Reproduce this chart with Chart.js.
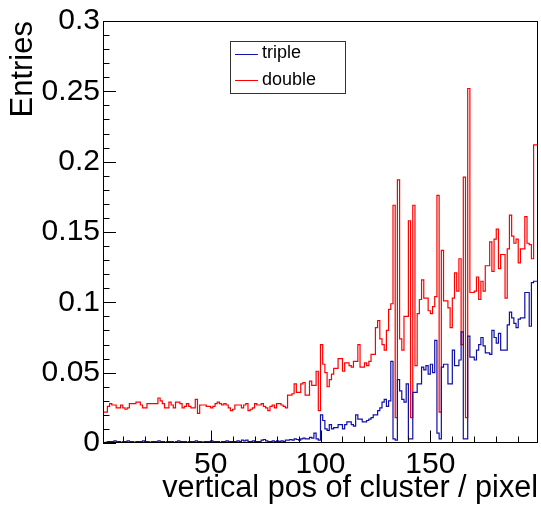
<!DOCTYPE html>
<html lang="en">
<head>
<meta charset="UTF-8">
<title>vertical pos of cluster</title>
<script src="https://cdn.jsdelivr.net/npm/chart.js"></script>
<style>
  html, body { margin: 0; padding: 0; background: #fff; }
</style>
</head>
<body>
<canvas id="grafica" width="541" height="508"></canvas>

<script>
// histogram: bins 1 pixel wide, first bin starts at 1
const firstBin = 1;
const seriesNames = ['triple', 'double'];
const xTickVals = [50, 100, 150];
const yTickVals = [0, 0.05, 0.1, 0.15, 0.2, 0.25, 0.3];

const tripleVals = [
  0, 0, 0.0005, 0.001, 0.001, 0.001, 0.0015, 0.001, 0.001, 0.0005,
  0.001, 0.001, 0.0015, 0.001, 0.001, 0.0005, 0.001, 0.001, 0.001, 0.0015,
  0.001, 0.001, 0.0005, 0.001, 0.001, 0.001, 0.0015, 0.001, 0.001, 0.0005,
  0.001, 0.001, 0.001, 0.0005, 0.001, 0.0015, 0.001, 0.001, 0.001, 0.0005,
  0.001, 0.001, 0.001, 0.0015, 0.001, 0.001, 0.0005, 0.001, 0.001, 0.001,
  0.0015, 0.001, 0.001, 0.001, 0.0005, 0.001, 0.001, 0.0015, 0.001, 0.001,
  0.001, 0.001, 0.0015, 0.001, 0.002, 0.0015, 0.002, 0.001, 0.001, 0.0015,
  0.001, 0.001, 0.001, 0.002, 0.0025, 0.0015, 0.001, 0.001, 0.0015, 0.001,
  0.0015, 0.001, 0.0015, 0.001, 0.002, 0.002, 0.0025, 0.002, 0.003, 0.0025,
  0.002, 0.003, 0.0035, 0.003, 0.003, 0.004, 0.0035, 0.007, 0.003, 0.002,
  0.020, 0.016, 0.010, 0.009, 0.013, 0.010, 0.011, 0.011, 0.013, 0.013,
  0.010, 0.013, 0.015, 0.015, 0.013, 0.012, 0.020, 0.017, 0.017, 0.015,
  0.015, 0.016, 0.017, 0.018, 0.020, 0.020, 0.023, 0.025, 0.029, 0.031,
  0.026, 0.030, 0.058, 0.003, 0.002, 0.045, 0.037, 0.031, 0.029, 0.042,
  0.003, 0.003, 0.036, 0.036, 0.042, 0.042, 0.054, 0.052, 0.055, 0.049,
  0.056, 0.050, 0.073, 0.007, 0.003, 0.054, 0.056, 0.056, 0.042, 0.042,
  0.066, 0.055, 0.055, 0.059, 0.079, 0.003, 0.003, 0.076, 0.061, 0.061,
  0.059, 0.066, 0.070, 0.075, 0.069, 0.064, 0.064, 0.063, 0.080, 0.075,
  0.071, 0.078, 0.066, 0.066, 0.066, 0.084, 0.093, 0.089, 0.085, 0.082,
  0.088, 0.089, 0.089, 0.107, 0.107, 0.083, 0.114, 0.115
];

const doubleVals = [
  0.021, 0.022, 0.022, 0.026, 0.028, 0.027, 0.027, 0.025, 0.025, 0.027,
  0.025, 0.024, 0.025, 0.028, 0.028, 0.028, 0.029, 0.029, 0.027, 0.025,
  0.025, 0.028, 0.028, 0.028, 0.028, 0.028, 0.032, 0.030, 0.028, 0.025,
  0.025, 0.029, 0.027, 0.025, 0.029, 0.029, 0.028, 0.025, 0.026, 0.028,
  0.026, 0.025, 0.025, 0.031, 0.021, 0.027, 0.027, 0.027, 0.026, 0.026,
  0.025, 0.026, 0.028, 0.029, 0.028, 0.027, 0.028, 0.027, 0.025, 0.023,
  0.024, 0.027, 0.027, 0.027, 0.025, 0.027, 0.028, 0.023, 0.024, 0.025,
  0.028, 0.027, 0.027, 0.028, 0.026, 0.025, 0.023, 0.026, 0.027, 0.025,
  0.028, 0.028, 0.027, 0.026, 0.025, 0.034, 0.034, 0.035, 0.042, 0.036,
  0.036, 0.042, 0.043, 0.034, 0.034, 0.044, 0.041, 0.041, 0.051, 0.023,
  0.070, 0.056, 0.050, 0.040, 0.045, 0.049, 0.053, 0.053, 0.060, 0.060,
  0.051, 0.057, 0.057, 0.055, 0.054, 0.058, 0.058, 0.070, 0.054, 0.054,
  0.057, 0.055, 0.058, 0.063, 0.063, 0.082, 0.087, 0.074, 0.070, 0.066,
  0.080, 0.095, 0.099, 0.169, 0.018, 0.187, 0.074, 0.066, 0.090, 0.090,
  0.158, 0.018, 0.169, 0.055, 0.092, 0.102, 0.116, 0.103, 0.103, 0.094,
  0.092, 0.097, 0.104, 0.176, 0.022, 0.137, 0.101, 0.101, 0.096, 0.082,
  0.103, 0.121, 0.108, 0.131, 0.070, 0.189, 0.018, 0.252, 0.107, 0.107,
  0.108, 0.118, 0.102, 0.115, 0.108, 0.126, 0.126, 0.143, 0.122, 0.145,
  0.152, 0.124, 0.134, 0.134, 0.103, 0.138, 0.162, 0.147, 0.142, 0.145,
  0.128, 0.138, 0.138, 0.161, 0.142, 0.141, 0.131, 0.212
];

const colTriple = '#1010a8';
const colDouble = '#ff0000';

// step outline like a ROOT histogram: rise from 0 at the first edge, close at last edge
function histPoints(vals) {
  const pts = [{ x: firstBin, y: 0 }];
  vals.forEach((v, i) => pts.push({ x: firstBin + i, y: v }));
  pts.push({ x: firstBin + vals.length, y: vals[vals.length - 1] });
  return pts;
}

Chart.defaults.font.family = '"Liberation Sans", Arial, sans-serif';
Chart.defaults.color = '#000';

// frame, inward ticks and the legend box
const rootFrame = {
  id: 'rootFrame',
  afterDatasetsDraw(chart) {
    const { ctx, chartArea: a, scales } = chart;
    const xs = scales.x, ys = scales.y;
    ctx.save();
    ctx.strokeStyle = '#000';
    ctx.lineWidth = 1;
    ctx.strokeRect(Math.round(a.left) + 0.5, Math.round(a.top) + 0.5,
                   Math.round(a.right - a.left) - 1, Math.round(a.bottom - a.top) - 1);
    ctx.beginPath();
    for (let v = 10; v < 199; v += 10) {
      const px = Math.round(xs.getPixelForValue(v)) + 0.5;
      const len = v % 50 === 0 ? 12.5 : 6.5;
      ctx.moveTo(px, a.bottom);
      ctx.lineTo(px, a.bottom - len);
    }
    for (let k = 0; k <= 30; k++) {
      const py = Math.round(ys.getPixelForValue(k / 100)) + 0.5;
      const len = k % 5 === 0 ? 13 : 6.5;
      ctx.moveTo(a.left, py);
      ctx.lineTo(a.left + len, py);
    }
    ctx.stroke();

    // legend
    const lx = 230.5, ly = 41.5, lw = 115, lh = 52;
    ctx.fillStyle = '#fff';
    ctx.fillRect(lx, ly, lw, lh);
    ctx.strokeStyle = '#333';
    ctx.strokeRect(lx, ly, lw, lh);
    ctx.font = '18px "Liberation Sans", Arial, sans-serif';
    ctx.textBaseline = 'middle';
    ctx.textAlign = 'left';
    chart.data.datasets.forEach((ds, i) => {
      const yy = 53.5 + i * 26.5;
      ctx.strokeStyle = ds.borderColor;
      ctx.beginPath();
      ctx.moveTo(235, Math.round(yy) + 0.5);
      ctx.lineTo(258, Math.round(yy) + 0.5);
      ctx.stroke();
      ctx.fillStyle = '#000';
      ctx.fillText(ds.label, 262, yy);
    });
    ctx.restore();
  }
};

const ctx = document.getElementById('grafica').getContext('2d');
new Chart(ctx, {
  type: 'line',
  data: {
    datasets: [
      { label: seriesNames[0], data: histPoints(tripleVals), borderColor: colTriple,
        borderWidth: 1.2, stepped: 'after', pointRadius: 0, fill: false },
      { label: seriesNames[1], data: histPoints(doubleVals), borderColor: colDouble,
        borderWidth: 1.2, stepped: 'after', pointRadius: 0, fill: false }
    ]
  },
  options: {
    responsive: false,
    animation: false,
    devicePixelRatio: 1,
    layout: { padding: { top: 18, right: 3, left: 0, bottom: 0 } },
    plugins: { legend: { display: false }, tooltip: { enabled: false } },
    scales: {
      x: {
        type: 'linear', min: 1, max: 199,
        grid: { display: false, drawTicks: false },
        border: { display: false },
        ticks: { font: { size: 30 }, padding: 4, maxRotation: 0, autoSkip: false,
                 callback: v => String(v) },
        afterBuildTicks: s => { s.ticks = xTickVals.map(v => ({ value: v })); },
        afterFit: s => { s.height = 65; },
        title: { display: true, text: 'vertical pos of cluster / pixel', align: 'end',
                 font: { size: 30.6 }, padding: { top: 0, bottom: 1 } }
      },
      y: {
        type: 'linear', min: 0, max: 0.3,
        grid: { display: false, drawTicks: false },
        border: { display: false },
        ticks: { font: { size: 30 }, padding: 3, autoSkip: false,
                 callback: v => String(v) },
        afterBuildTicks: s => { s.ticks = yTickVals.map(v => ({ value: v })); },
        afterFit: s => { s.width = 103; },
        title: { display: true, text: 'Entries', align: 'end',
                 font: { size: 31 }, padding: { top: 5, bottom: 0 } }
      }
    }
  },
  plugins: [rootFrame]
});
</script>
</body>
</html>
